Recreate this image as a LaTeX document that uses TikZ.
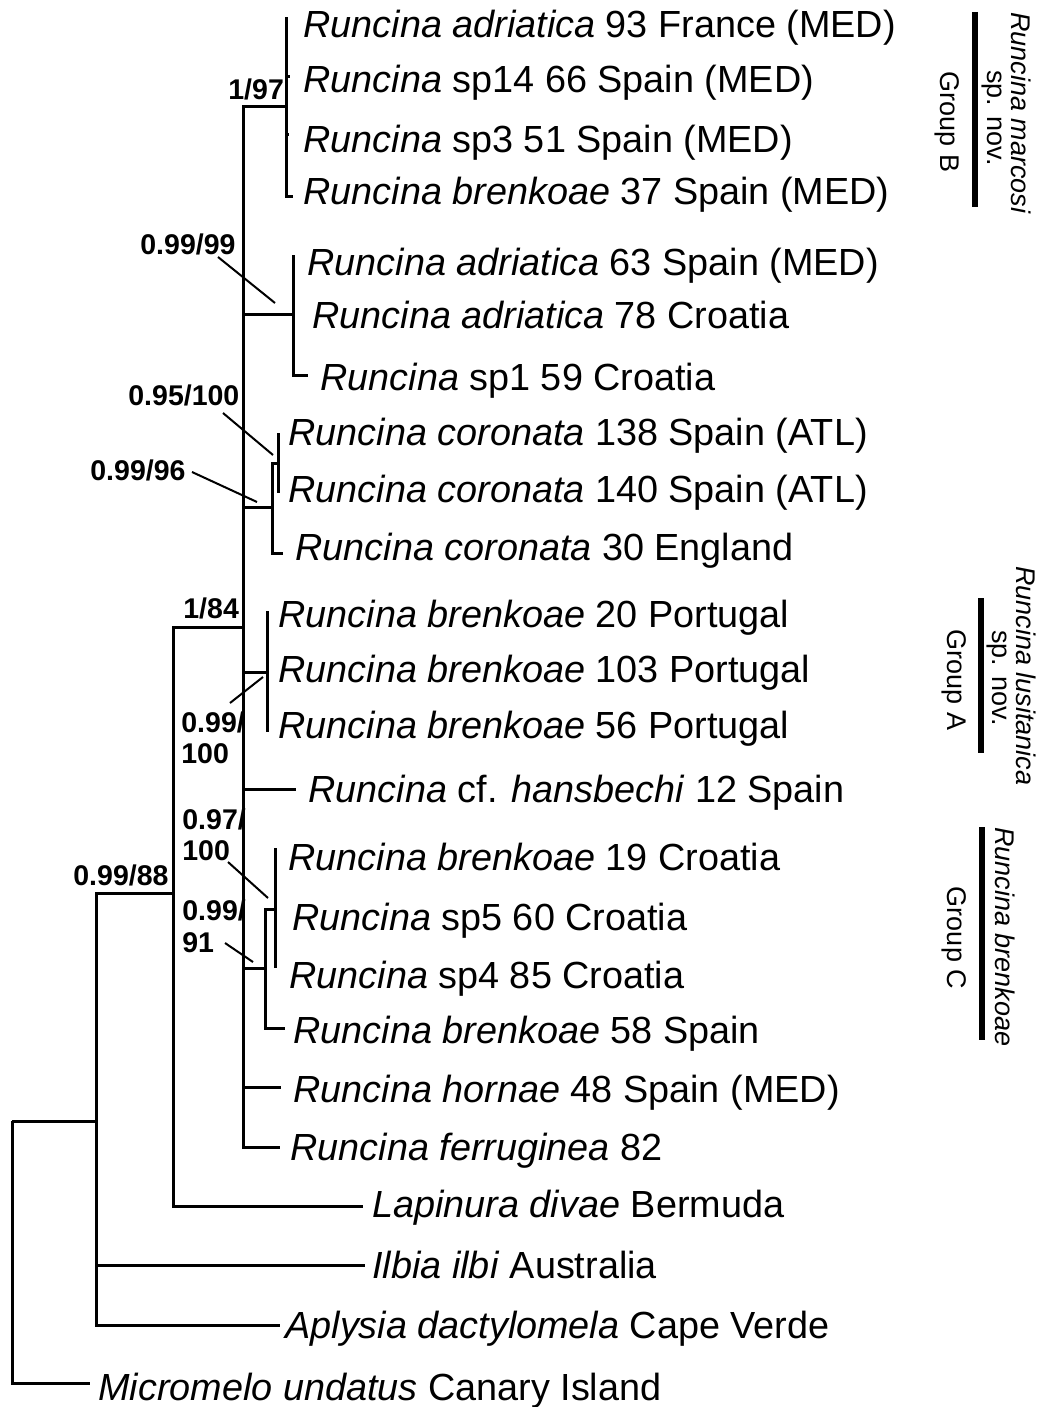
\documentclass[tikz,border=0pt]{standalone}
\usepackage{fontspec}
\setmainfont{Liberation Sans}
\begin{document}
\begin{tikzpicture}[x=0.5pt,y=-0.5pt,
  taxon/.style={anchor=base west, inner sep=0pt, font=\fontsize{18.9}{22}\selectfont},
  sup/.style={anchor=base west, inner sep=0pt, font=\fontsize{14.25}{16}\selectfont\bfseries},
  side/.style={rotate=-90, anchor=base, inner sep=0pt, font=\fontsize{13.5}{16}\selectfont},
  tree/.style={line width=1.5pt, line join=miter},
  ptr/.style={line width=1pt},
  bar/.style={line width=3pt}]
\useasboundingbox (0,0) rectangle (1037,1407);
\fill[white] (0,0) rectangle (1037,1407);

% ---------- taxa ----------
\node[taxon] (x1)  at (303,38)   {\textit{Runcina adriatica} 93 France (MED)};
\node[taxon] (x2)  at (303,93)   {\textit{Runcina} sp14 66 Spain (MED)};
\node[taxon] (x3)  at (303,153)  {\textit{Runcina} sp3 51 Spain (MED)};
\node[taxon] (x4)  at (303,205)  {\textit{Runcina brenkoae} 37 Spain (MED)};
\node[taxon] (x5)  at (307,275)  {\textit{Runcina adriatica} 63 Spain (MED)};
\node[taxon] (x6)  at (312,328)  {\textit{Runcina adriatica} 78 Croatia};
\node[taxon] (x7)  at (320,390)  {\textit{Runcina} sp1 59 Croatia};
\node[taxon] (x8)  at (288,445)  {\textit{Runcina coronata} 138 Spain (ATL)};
\node[taxon] (x9)  at (288,502)  {\textit{Runcina coronata} 140 Spain (ATL)};
\node[taxon] (x10) at (295,560)  {\textit{Runcina coronata} 30 England};
\node[taxon] (x11) at (278,627)  {\textit{Runcina brenkoae} 20 Portugal};
\node[taxon] (x12) at (278,682)  {\textit{Runcina brenkoae} 103 Portugal};
\node[taxon] (x13) at (278,738)  {\textit{Runcina brenkoae} 56 Portugal};
\node[taxon] (x14) at (308,802)  {\textit{Runcina} cf. \textit{hansbechi} 12 Spain};
\node[taxon] (x15) at (288,870)  {\textit{Runcina brenkoae} 19 Croatia};
\node[taxon] (x16) at (292,930)  {\textit{Runcina} sp5 60 Croatia};
\node[taxon] (x17) at (289,988)  {\textit{Runcina} sp4 85 Croatia};
\node[taxon] (x18) at (293,1043) {\textit{Runcina brenkoae} 58 Spain};
\node[taxon] (x19) at (293,1102) {\textit{Runcina hornae} 48 Spain (MED)};
\node[taxon] (x20) at (290,1160) {\textit{Runcina ferruginea} 82};
\node[taxon] (x21) at (372,1217) {\textit{Lapinura divae} Bermuda};
\node[taxon] (x22) at (372,1278) {\textit{Ilbia ilbi} Australia};
\node[taxon] (x23) at (285,1338) {\textit{Aplysia dactylomela} Cape Verde};
\node[taxon] (x24) at (98,1400)  {\textit{Micromelo undatus} Canary Island};

% ---------- internal nodes ----------
\coordinate (root)  at (12,1121);
\coordinate (n088)  at (96,1121);
\coordinate (n184)  at (173,893);
\coordinate (nR)    at (243,627);
\coordinate (n197)  at (286,107);
\coordinate (n9999) at (293,314);
\coordinate (n9996) at (272,507);
\coordinate (n95)   at (278,463);
\coordinate (nPort) at (267,672);
\coordinate (nCro)  at (265,968);
\coordinate (n97)   at (275,909);

% ---------- tip ends ----------
\coordinate (t1)  at (286,17);
\coordinate (t2)  at (290,77);
\coordinate (t3)  at (289,135);
\coordinate (t4)  at (293,197);
\coordinate (t5)  at (293,255);
\coordinate (t6)  at (293,316);
\coordinate (t7)  at (308,375);
\coordinate (t8)  at (278,433);
\coordinate (t9)  at (278,493);
\coordinate (t10) at (283,553);
\coordinate (t11) at (267,611);
\coordinate (t12) at (267,672);
\coordinate (t13) at (267,732);
\coordinate (t14) at (296,789);
\coordinate (t15) at (275,848);
\coordinate (t16) at (275,909);
\coordinate (t17) at (275,968);
\coordinate (t18) at (285,1028);
\coordinate (t19) at (281,1087);
\coordinate (t20) at (280,1147);
\coordinate (t21) at (363,1206);
\coordinate (t22) at (365,1265);
\coordinate (t23) at (280,1325);
\coordinate (t24) at (90,1383);

% ---------- branches ----------
\draw[tree] (root) |- (n088);
\draw[tree] (root) |- (t24);
\draw[tree] (n088) |- (n184);
\draw[tree] (n088) |- (t22);
\draw[tree] (n088) |- (t23);
\draw[tree] (n184) |- (nR);
\draw[tree] (n184) |- (t21);
\draw[tree] (nR) |- (n197);
\draw[tree] (nR) |- (n9999);
\draw[tree] (nR) |- (n9996);
\draw[tree] (nR) |- (nPort);
\draw[tree] (nR) |- (t14);
\draw[tree] (nR) |- (nCro);
\draw[tree] (nR) |- (t19);
\draw[tree] (nR) |- (t20);
\draw[tree] (n197) |- (t1);
\draw[tree] (n197) |- (t2);
\draw[tree] (n197) |- (t3);
\draw[tree] (n197) |- (t4);
\draw[tree] (n9999) |- (t5);
\draw[tree] (n9999) |- (t6);
\draw[tree] (n9999) |- (t7);
\draw[tree] (n9996) |- (n95);
\draw[tree] (n9996) |- (t10);
\draw[tree] (n95) |- (t8);
\draw[tree] (n95) |- (t9);
\draw[tree] (nPort) |- (t11);
\draw[tree] (nPort) |- (t13);
\draw[tree] (nCro) |- (n97);
\draw[tree] (nCro) |- (t18);
\draw[tree] (n97) |- (t15);
\draw[tree] (n97) |- (t17);

% ---------- support values ----------
\node[sup] (s197)  at (228,100) {1/97};
\node[sup] (s9999) at (140,255) {0.99/99};
\node[sup] (s95)   at (128,405) {0.95/100};
\node[sup] (s9996) at (90,480)  {0.99/96};
\node[sup] (s184)  at (183,618) {1/84};
\node[sup] (sPa)   at (181,732) {0.99/};
\node[sup] (sPb)   at (181,763) {100};
\node[sup] (s97a)  at (182,829) {0.97/};
\node[sup] (s97b)  at (182,860) {100};
\node[sup] (s91a)  at (182,920) {0.99/};
\node[sup] (s91b)  at (182,952) {91};
\node[sup] (s088)  at (73,885)  {0.99/88};

\coordinate (p1a) at (218,257); \coordinate (p1b) at (275,303);
\coordinate (p2a) at (223,413); \coordinate (p2b) at (273,455);
\coordinate (p3a) at (192,472); \coordinate (p3b) at (257,502);
\coordinate (p4a) at (230,703); \coordinate (p4b) at (263,677);
\coordinate (p5a) at (228,862); \coordinate (p5b) at (268,898);
\coordinate (p6a) at (225,943); \coordinate (p6b) at (253,962);
\draw[ptr] (p1a) -- (p1b);
\draw[ptr] (p2a) -- (p2b);
\draw[ptr] (p3a) -- (p3b);
\draw[ptr] (p4a) -- (p4b);
\draw[ptr] (p5a) -- (p5b);
\draw[ptr] (p6a) -- (p6b);

% ---------- group bars ----------
\coordinate (bBt) at (975,12);  \coordinate (bBb) at (975,207);
\coordinate (bAt) at (981,598); \coordinate (bAb) at (981,753);
\coordinate (bCt) at (982,827); \coordinate (bCb) at (982,1040);
\draw[bar] (bBt) -- (bBb);
\draw[bar] (bAt) -- (bAb);
\draw[bar] (bCt) -- (bCb);

\node[side] (gB1) at (1011,113) {\textit{Runcina marcosi}};
\node[side] (gB2) at (987,118)  {sp. nov.};
\node[side] (gB3) at (940,122)  {Group B};
\node[side] (gA1) at (1016,676) {\textit{Runcina lusitanica}};
\node[side] (gA2) at (992,678)  {sp. nov.};
\node[side] (gA3) at (947,680)  {Group A};
\node[side] (gC1) at (995,937)  {\textit{Runcina brenkoae}};
\node[side] (gC3) at (947,938)  {Group C};
\end{tikzpicture}
\end{document}
